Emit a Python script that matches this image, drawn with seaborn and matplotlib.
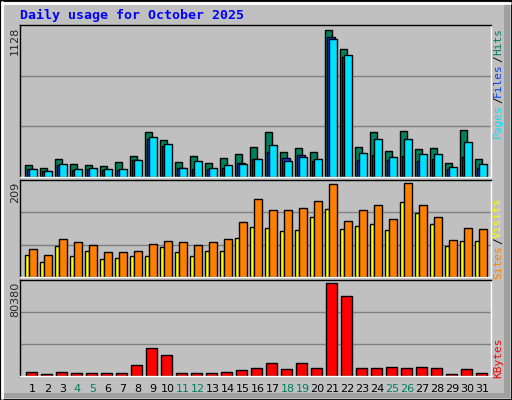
import matplotlib
matplotlib.use("Agg")
import matplotlib.pyplot as plt
import seaborn as sns
import numpy as np
from matplotlib.patches import Rectangle
from matplotlib.lines import Line2D

days = list(range(1, 32))
hits = [95,72,141,102,95,87,118,164,348,286,118,164,110,148,179,233,348,194,225,194,1130,984,233,348,202,355,217,225,110,363,141]
files = [64,49,92,56,64,56,56,133,294,240,72,64,64,72,110,141,194,148,171,125,1074,923,133,171,133,164,125,141,64,156,72]
pages = [64,49,102,64,72,64,64,133,309,256,72,125,72,95,102,141,248,125,156,141,1061,938,187,294,156,294,179,179,79,271,102]
sites = [48,33,67,46,55,39,42,46,46,64,53,46,57,57,83,107,105,99,101,129,147,103,110,114,101,162,138,114,67,77,77]
visits = [61,48,81,75,68,53,53,57,72,77,75,70,75,81,118,167,145,145,149,164,200,121,145,156,125,202,156,129,79,105,103]
kbytes = [3700,2000,3700,2800,2800,2800,2800,8800,23200,17300,2800,2800,2800,3700,5400,7100,10500,6200,10500,7100,77500,67400,7100,7100,7900,7100,7900,7100,2000,6200,2800]
weekend = [4,5,11,12,18,19,25,26]
max_hits, max_visits, max_kb = 1128, 209, 80380

sns.set_style("white")
plt.rcParams['font.family'] = ['DejaVu Sans Mono', 'DejaVu Sans']
BG = "#c0c0c0"
fig = plt.figure(figsize=(5.12, 4.0), dpi=100, facecolor=BG)
W, H = 512, 400
def ax_at(top, bottom):
    return fig.add_axes([20/W, (H-bottom)/H, 471/W, (bottom-top)/H])

ax1 = ax_at(25, 177)
ax2 = ax_at(180, 277)
ax3 = ax_at(280, 376)

def series(ax, vals, off, width, color):
    x = np.array(days) + off + width/2
    sns.barplot(x=x, y=vals, native_scale=True, width=width, color=color,
                edgecolor="black", linewidth=1, saturation=1, ax=ax, errorbar=None)

series(ax1, hits, -0.5, 0.5, "#00805c")
series(ax1, files, -0.34, 0.5, "#0040ff")
series(ax1, pages, -0.21, 0.5, "#00e0ff")
series(ax2, sites, -0.5, 0.3, "#ffff00")
series(ax2, visits, -0.21, 0.49, "#ff8000")
series(ax3, kbytes, -0.43, 0.71, "#ff0000")

tops = [max_hits*152/147, max_visits, max_kb]
for ax, t in zip([ax1, ax2, ax3], tops):
    ax.set_facecolor(BG)
    ax.set_xlim(0.17, 31.57)
    ax.set_ylim(0, t)
    for g in (t/3, 2*t/3):
        ax.axhline(g, color="#808080", lw=1, zorder=0)
    ax.set_yticks([]); ax.set_xticks([])
    ax.set_xlabel(""); ax.set_ylabel("")
    for s in ax.spines.values():
        s.set_color("black"); s.set_linewidth(1)
    ax.spines['right'].set_color("white")
    ax.spines['bottom'].set_color("white")

ax3.set_xticks(days)
ax3.set_xticklabels([str(d) for d in days], fontsize=8, family="DejaVu Sans")
ax3.tick_params(length=0, pad=6)
for lbl, d in zip(ax3.get_xticklabels(), days):
    lbl.set_color("#00805c" if d in weekend else "black")

fig.text(20/W, 1-15/H, "Daily usage for October 2025", color="#0000ff",
         fontsize=9.5, fontweight="bold", va="center", ha="left")
fig.text(15/W, 1-27/H, str(max_hits), rotation=90, fontsize=8, va="top", ha="center", family="DejaVu Sans")
fig.text(15/W, 1-182/H, str(max_visits), rotation=90, fontsize=8, va="top", ha="center", family="DejaVu Sans")
fig.text(15/W, 1-282/H, str(max_kb), rotation=90, fontsize=8, va="top", ha="center", family="DejaVu Sans")

def vstack(parts, y_top):
    y = y_top
    for txt, col in parts:
        t = fig.text(498/W, 1-y/H, txt, rotation=90, color=col, fontsize=8, va="top", ha="center")
        y += len(txt)*6.2 + 2
vstack([("Hits", "#00805c"), ("/", "#000000"), ("Files", "#0040ff"), ("/", "#000000"), ("Pages", "#00e0ff")], 28)
vstack([("Visits", "#ffff00"), ("/", "#000000"), ("Sites", "#ff8000")], 198)
vstack([("KBytes", "#ff0000")], 337)

# frame bevel
fig.add_artist(Rectangle((0, 0), 1, 1, transform=fig.transFigure, fill=False, ec="black", lw=2))
fig.add_artist(Line2D([2/W, 2/W], [2/H, 1-2/H], transform=fig.transFigure, color="white", lw=2))
fig.add_artist(Line2D([2/W, 1-2/W], [1-3/H, 1-3/H], transform=fig.transFigure, color="white", lw=2))
fig.add_artist(Rectangle((1-8/W, 2/H), 6/W, 1-5/H, transform=fig.transFigure, fc="#a0a0a0", ec="none"))
fig.add_artist(Rectangle((2/W, 2/H), 1-4/W, 5/H, transform=fig.transFigure, fc="#a0a0a0", ec="none"))

fig.savefig("out.png", dpi=100, facecolor=BG)
